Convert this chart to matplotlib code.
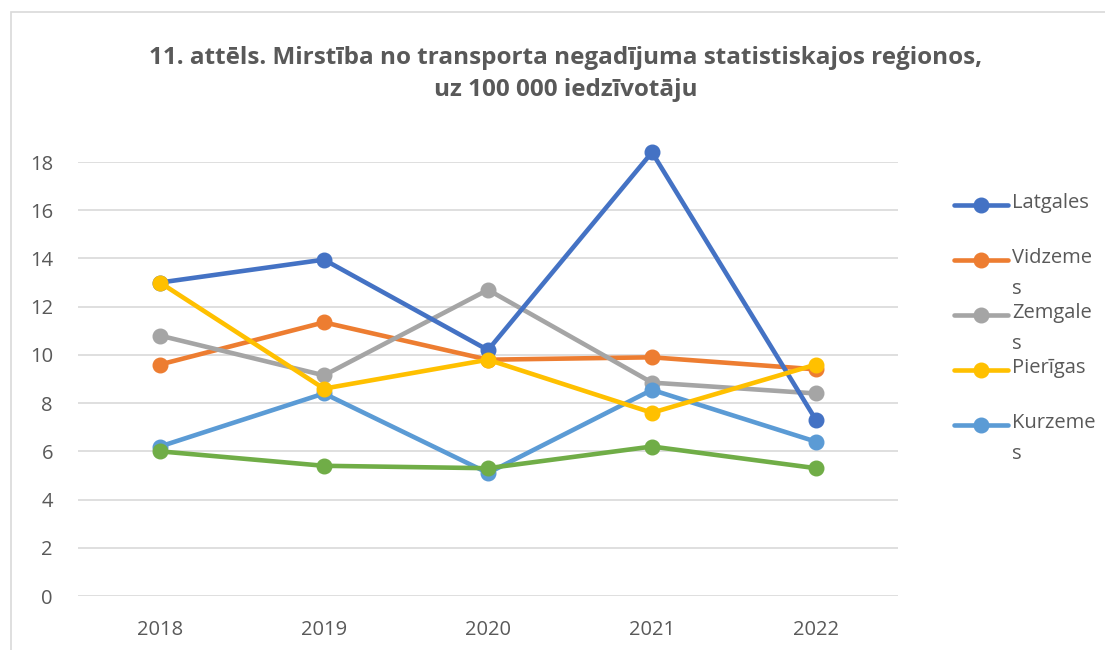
import matplotlib
matplotlib.use("Agg")
import matplotlib.pyplot as plt
from matplotlib.lines import Line2D
from matplotlib.patches import Rectangle

years = ["2018", "2019", "2020", "2021", "2022"]
latgales = [13.0, 13.95, 10.2, 18.4, 7.3]
vidzemes = [9.6, 11.35, 9.8, 9.9, 9.4]
zemgales = [10.8, 9.15, 12.7, 8.85, 8.4]
pierigas = [13.0, 8.6, 9.8, 7.6, 9.6]
kurzemes = [6.2, 8.4, 5.1, 8.55, 6.4]
rigas = [6.0, 5.4, 5.3, 6.2, 5.3]

legend_labels = ["Latgales", "Vidzeme\ns", "Zemgale\ns", "Pierīgas", "Kurzeme\ns"]
title = "11. attēls. Mirstība no transporta negadījuma statistiskajos reģionos,\nuz 100 000 iedzīvotāju"

colors = {
    "Latgales": "#4472C4",
    "Vidzemes": "#ED7D31",
    "Zemgales": "#A5A5A5",
    "Pierīgas": "#FFC000",
    "Kurzemes": "#5B9BD5",
    "Rīgas": "#70AD47",
}

plt.rcParams['font.family'] = ['Open Sans', 'DejaVu Sans']
W, H = 1105, 650
fig = plt.figure(figsize=(W / 100, H / 100), dpi=100)

# chart frame
fig.add_artist(Rectangle((11 / W, -0.01), 1.1, 1 - 12 / H + 0.01, transform=fig.transFigure,
                         fill=False, edgecolor="#d9d9d9", linewidth=1.2))

ax = fig.add_axes([78 / W, (H - 596) / H, (898 - 78) / W, (596 - 162) / H])
x = list(range(len(years)))
ax.set_xlim(-0.5, len(years) - 0.5)

order = [("Rīgas", rigas), ("Kurzemes", kurzemes), ("Zemgales", zemgales), ("Vidzemes", vidzemes),
         ("Latgales", latgales), ("Pierīgas", pierigas)]
zo = {"Latgales": 5, "Vidzemes": 4, "Zemgales": 4.5, "Pierīgas": 6, "Kurzemes": 5.5, "Rīgas": 5.8}
for name, vals in order:
    ax.plot(x, vals, color=colors[name], linewidth=3.3, marker="o", markersize=10.5,
            solid_capstyle="round", zorder=zo[name], clip_on=False)

ax.set_yticks(range(0, 19, 2))
ax.set_xticks(x)
ax.set_xticklabels(years)
ax.grid(axis="y", color="#d9d9d9", linewidth=1.2)
ax.set_axisbelow(True)
for s in ax.spines.values():
    s.set_visible(False)
ax.tick_params(axis="both", length=0, labelsize=14.5, colors="#595959")
ax.tick_params(axis="y", pad=18)
ax.tick_params(axis="x", pad=17)
ax.set_ylim(0, 18)

fig.text(566 / W, 1 - 74 / H, title, ha="center", va="center", fontsize=17.5, fontweight="bold",
         color="#595959", linespacing=1.4)

# legend
leg_names = ["Latgales", "Vidzemes", "Zemgales", "Pierīgas", "Kurzemes"]
ys = [205, 260, 315, 370, 425]
for name, lab, yy in zip(leg_names, legend_labels, ys):
    yf = 1 - yy / H
    fig.add_artist(Line2D([954 / W, 1008 / W], [yf, yf], transform=fig.transFigure,
                          color=colors[name], linewidth=3.3, solid_capstyle="round"))
    fig.add_artist(Line2D([981 / W], [yf], transform=fig.transFigure, color=colors[name],
                          marker="o", markersize=10.5))
    fig.text(1012 / W, yf + 12 / H, lab, ha="left", va="top", fontsize=14.5, color="#595959",
             linespacing=1.75, transform=fig.transFigure)

fig.savefig("out.png", dpi=100)
